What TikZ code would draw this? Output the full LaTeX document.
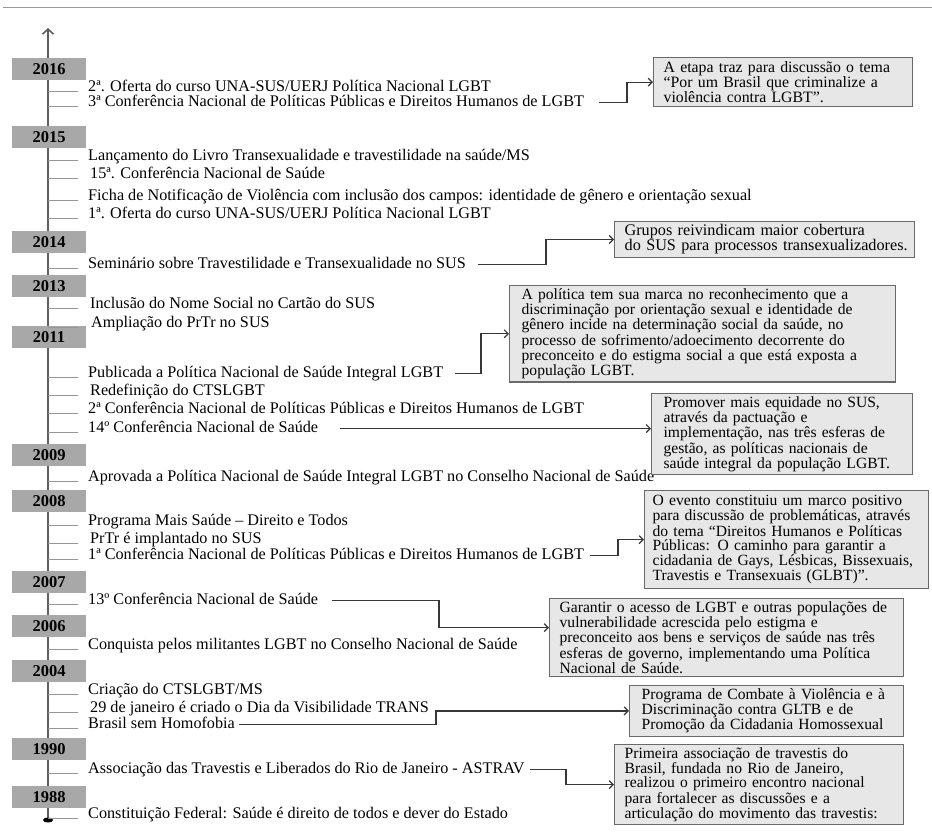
\documentclass[tikz,border=0pt]{standalone}
\usepackage{fontspec}
\setmainfont{Liberation Serif}
\usetikzlibrary{arrows.meta}

\definecolor{yeargray}{RGB}{168,168,168}
\definecolor{boxgray}{RGB}{231,231,231}
\definecolor{edgegray}{RGB}{105,105,105}
\definecolor{axisgray}{RGB}{95,95,95}
\definecolor{tickgray}{RGB}{150,150,150}
\definecolor{linkgray}{RGB}{55,55,55}

\newcommand{\fullline}[1]{\makebox[\linewidth][s]{#1}}

\tikzset{
  yearbox/.style={fill=yeargray, minimum width=74pt, minimum height=22pt, inner sep=0pt,
    font=\fontsize{16.5}{17}\selectfont\bfseries},
  event/.style={anchor=base west, inner sep=0pt, text height=10pt, text depth=3pt,
    font=\fontsize{16.2}{17}\selectfont},
  tickline/.style={draw=tickgray, line width=1pt},
  axisline/.style={draw=axisgray, line width=1.6pt},
  infobox/.style={draw=edgegray, fill=boxgray, line width=1.3pt, anchor=north west,
    align=left, inner ysep=3pt, font=\fontsize{15.6}{14}\selectfont},
  link/.style={draw=linkgray, line width=1.2pt, -{Straight Barb[length=4pt,width=8pt]}},
}

\begin{document}
\begin{tikzpicture}[x=1pt,y=-1pt]
\useasboundingbox (0,0) rectangle (932,839);
\draw[gray!80, line width=0.8pt] (3,7) -- (932,7);

% axis
\coordinate (top) at (48,28);
\coordinate (bottom) at (48,820);
\draw[axisline, -{Straight Barb[length=5pt,width=11pt]}] (bottom) -- (top);
\fill (bottom) ellipse (5pt and 2.5pt);

% years
\node[yearbox] (y2016) at (49,69) {2016};
\node[yearbox] (y2015) at (49,137) {2015};
\node[yearbox] (y2014) at (49,242) {2014};
\node[yearbox] (y2013) at (49,286) {2013};
\node[yearbox] (y2011) at (49,337) {2011};
\node[yearbox] (y2009) at (49,455) {2009};
\node[yearbox] (y2008) at (49,501) {2008};
\node[yearbox] (y2007) at (49,582) {2007};
\node[yearbox] (y2006) at (49,626) {2006};
\node[yearbox] (y2004) at (49,671) {2004};
\node[yearbox] (y1990) at (49,749) {1990};
\node[yearbox] (y1988) at (49,797) {1988};

% events
\node[event] (e16a) at (88,91) {2ª. Oferta do curso UNA-SUS/UERJ Política Nacional LGBT};
\node[event] (e16b) at (88,106) {3ª Conferência Nacional de Políticas Públicas e Direitos Humanos de LGBT};
\node[event] (e15a) at (88,160) {Lançamento do Livro Transexualidade e travestilidade na saúde/MS};
\node[event] (e15b) at (90,178) {15ª. Conferência Nacional de Saúde};
\node[event] (e15c) at (88,200) {Ficha de Notificação de Violência com inclusão dos campos: identidade de gênero e orientação sexual};
\node[event] (e15d) at (88,218) {1ª. Oferta do curso UNA-SUS/UERJ Política Nacional LGBT};
\node[event] (e14a) at (88,268) {Seminário sobre Travestilidade e Transexualidade no SUS};
\node[event] (e13a) at (90,308) {Inclusão do Nome Social no Cartão do SUS};
\node[event] (e13b) at (91,327) {Ampliação do PrTr no SUS};
\node[event] (e11a) at (88,377) {Publicada a Política Nacional de Saúde Integral LGBT};
\node[event] (e11b) at (90,395) {Redefinição do CTSLGBT};
\node[event] (e11c) at (88,413) {2ª Conferência Nacional de Políticas Públicas e Direitos Humanos de LGBT};
\node[event] (e11d) at (88,432) {14º Conferência Nacional de Saúde};
\node[event] (e09a) at (88,481) {Aprovada a Política Nacional de Saúde Integral LGBT no Conselho Nacional de Saúde};
\node[event] (e08a) at (88,525) {Programa Mais Saúde – Direito e Todos};
\node[event] (e08b) at (90,543) {PrTr é implantado no SUS};
\node[event] (e08c) at (88,559) {1ª Conferência Nacional de Políticas Públicas e Direitos Humanos de LGBT};
\node[event] (e07a) at (88,604) {13º Conferência Nacional de Saúde};
\node[event] (e06a) at (88,649) {Conquista pelos militantes LGBT no Conselho Nacional de Saúde};
\node[event] (e04a) at (88,694) {Criação do CTSLGBT/MS};
\node[event] (e04b) at (90,712) {29 de janeiro é criado o Dia da Visibilidade TRANS};
\node[event] (e04c) at (88,728) {Brasil sem Homofobia};
\node[event] (e90a) at (88,773) {Associação das Travestis e Liberados do Rio de Janeiro - ASTRAV};
\node[event] (e88a) at (88,818) {Constituição Federal: Saúde é direito de todos e dever do Estado};

% ticks
\foreach \n in {e16a,e16b,e15a,e15b,e15c,e15d,e14a,e13a,e13b,e11a,e11b,e11c,e11d,
  e09a,e08a,e08b,e08c,e07a,e06a,e04a,e04b,e04c,e90a,e88a}
  \draw[tickline] ([xshift=-10pt]\n.base west -| e16a.base west) -- (\n.base west -| top);

% boxes
\node[infobox, text width=239pt, minimum height=49pt, inner xsep=10pt,
  font=\fontsize{15.8}{15}\selectfont] (boxA) at (653,57)
  {\fullline{A etapa traz para discussão o tema}\\
   \fullline{“Por um Brasil que criminalize a}\\
   violência contra LGBT”.};
\node[infobox, text width=280pt, minimum height=34pt, inner xsep=10pt,
  font=\fontsize{16.2}{15}\selectfont] (boxB) at (614,221)
  {Grupos reivindicam maior cobertura\\
   \mbox{do SUS para processos transexualizadores.}};
\node[infobox, text width=362pt, minimum height=92pt, inner xsep=12pt] (boxC) at (509,285)
  {A política tem sua marca no reconhecimento que a\\
   discriminação por orientação sexual e identidade de\\
   gênero incide na determinação social da saúde, no\\
   processo de sofrimento/adoecimento decorrente do\\
   preconceito e do estigma social a que está exposta a\\
   população LGBT.};
\node[infobox, text width=237pt, minimum height=75pt, inner xsep=12pt] (boxD) at (651,393)
  {Promover mais equidade no SUS,\\
   através da pactuação e\\
   implementação, nas três esferas de\\
   gestão, as políticas nacionais de\\
   saúde integral da população LGBT.};
\node[infobox, text width=268pt, minimum height=98pt, inner xsep=8pt] (boxE) at (644,490)
  {O evento constituiu um marco positivo\\
   para discussão de problemáticas, através\\
   do tema “Direitos Humanos e Políticas\\
   Públicas: O caminho para garantir a\\
   cidadania de Gays, Lésbicas, Bissexuais,\\
   Travestis e Transexuais (GLBT)”.};
\node[infobox, text width=334pt, minimum height=77pt, inner xsep=10pt] (boxF) at (549,598)
  {Garantir o acesso de LGBT e outras populações de\\
   vulnerabilidade acrescida pelo estigma e\\
   preconceito aos bens e serviços de saúde nas três\\
   esferas de governo, implementando uma Política\\
   Nacional de Saúde.};
\node[infobox, text width=250pt, minimum height=48pt, inner xsep=12pt] (boxG) at (629,685)
  {Programa de Combate à Violência e à\\
   Discriminação contra GLTB e de\\
   Promoção da Cidadania Homossexual};
\node[infobox, text width=269pt, minimum height=77pt, inner xsep=10pt] (boxH) at (614,744)
  {Primeira associação de travestis do\\
   Brasil, fundada no Rio de Janeiro,\\
   realizou o primeiro encontro nacional\\
   para fortalecer as discussões e a\\
   articulação do movimento das travestis:};

% links
\draw[link] ([xshift=15pt]e16b.east) -| ([xshift=-26pt]boxA.west) -- (boxA.west);
\draw[link] ([xshift=12pt]e14a.east) -| ([xshift=-68pt]boxB.west) -- (boxB.west);
\draw[link] ([xshift=12pt]e11a.east) -| ([xshift=-28pt]boxC.west) -- (boxC.west);
\draw[link] ([xshift=22pt]e11d.east) -- (e11d.east -| boxD.west);
\draw[link] ([xshift=6pt]e08c.east) -| ([xshift=-26pt]boxE.west) -- (boxE.west);
\draw[link] ([xshift=14pt]e07a.east) -| ([xshift=-110pt,yshift=10pt]boxF.west) -- ([yshift=10pt]boxF.west);
\draw[link] ([xshift=4pt]e04c.east) -| ([xshift=-193pt]boxG.west) -- (boxG.west);
\draw[link] ([xshift=5pt]e90a.east) -| ([xshift=-48pt]boxH.west) -- (boxH.west);
\end{tikzpicture}
\end{document}
